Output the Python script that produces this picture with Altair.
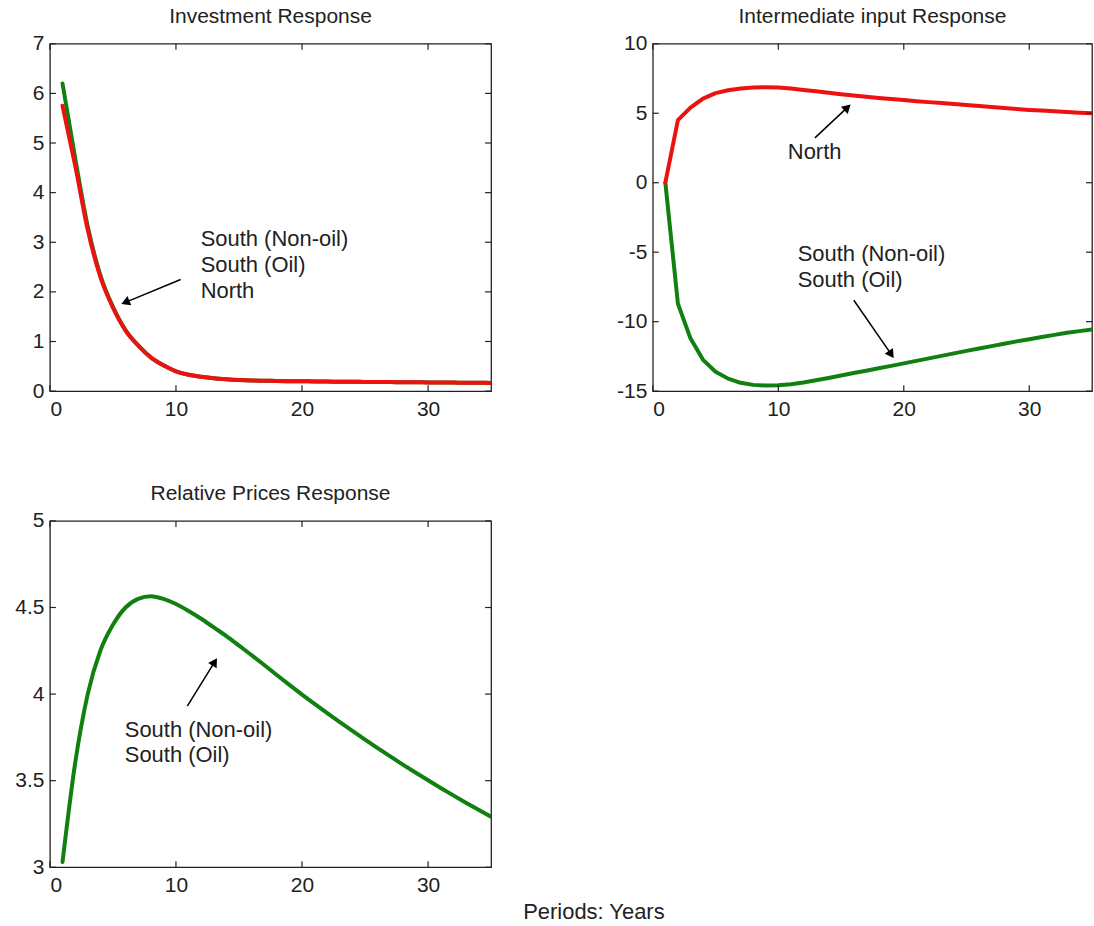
import math
import altair as alt
import pandas as pd

FONT = "Liberation Sans"
INK = "#222222"
RED = "#EE1111"
GREEN = "#118011"

periods = list(range(1, 36))

# Investment response
inv_north = [5.75, 4.55, 3.25, 2.30, 1.68, 1.22, 0.92, 0.68, 0.52, 0.40,
             0.33, 0.29, 0.26, 0.24, 0.225, 0.215, 0.21, 0.205, 0.20, 0.198,
             0.195, 0.192, 0.19, 0.188, 0.186, 0.184, 0.182, 0.18, 0.178, 0.176,
             0.174, 0.172, 0.17, 0.168, 0.166]
inv_south = [6.20, 4.70, 3.32, 2.34, 1.70, 1.23, 0.92, 0.68, 0.52, 0.40,
             0.33, 0.29, 0.26, 0.24, 0.225, 0.215, 0.21, 0.205, 0.20, 0.198,
             0.195, 0.192, 0.19, 0.188, 0.186, 0.184, 0.182, 0.18, 0.178, 0.176,
             0.174, 0.172, 0.17, 0.168, 0.166]

# Intermediate input response
int_north = [0.0, 4.5, 5.4, 6.05, 6.45, 6.65, 6.78, 6.85, 6.87, 6.85,
             6.78, 6.68, 6.58, 6.47, 6.37, 6.27, 6.18, 6.10, 6.02, 5.95,
             5.87, 5.80, 5.73, 5.66, 5.59, 5.52, 5.45, 5.38, 5.31, 5.24,
             5.19, 5.14, 5.09, 5.04, 5.00]
int_south = [0.0, -8.7, -11.2, -12.75, -13.6, -14.1, -14.4, -14.55, -14.6, -14.58,
             -14.5, -14.38, -14.22, -14.05, -13.87, -13.7, -13.53, -13.35, -13.18, -13.0,
             -12.82, -12.64, -12.46, -12.28, -12.1, -11.93, -11.76, -11.59, -11.42, -11.26,
             -11.1, -10.95, -10.8, -10.68, -10.56]

# Relative prices response
rp_south = [3.03, 3.60, 4.00, 4.25, 4.40, 4.50, 4.55, 4.565, 4.55, 4.52,
            4.48, 4.435, 4.385, 4.335, 4.28, 4.225, 4.168, 4.11, 4.053, 3.997,
            3.943, 3.89, 3.838, 3.787, 3.737, 3.688, 3.64, 3.593, 3.547, 3.502,
            3.458, 3.415, 3.373, 3.332, 3.292]

x_ticks = [0, 10, 20, 30]
x_domain = [0, 35]

# annotation labels: (x, y, text)
inv_labels = [(11.96, 3.06, "South (Non-oil)"), (11.96, 2.54, "South (Oil)"), (11.96, 2.01, "North")]
int_labels = [(10.76, 2.19, "North"), (11.55, -5.11, "South (Non-oil)"), (11.55, -6.98, "South (Oil)")]
rp_labels = [(5.94, 3.79, "South (Non-oil)"), (5.94, 3.65, "South (Oil)")]

# arrows: (x start, y start, x tip, y tip)
inv_arrows = [(10.37, 2.25, 5.62, 1.75)]
int_arrows = [(12.92, 3.23, 15.8, 5.67), (16.02, -8.46, 19.23, -12.65)]
rp_arrows = [(10.9, 3.93, 13.28, 4.21)]

# plain-number tick labels with an ASCII minus
PLAIN = "datum.value + ''"


def panel(title, series, y_domain, y_ticks, labels, arrows, W, H, interp="linear", extra=None):
    xs = alt.Scale(domain=x_domain, nice=False)
    ys = alt.Scale(domain=y_domain, nice=False, zero=False)
    xa = alt.Axis(values=x_ticks, title=None, labelExpr=PLAIN)
    ya = alt.Axis(values=y_ticks, title=None, labelExpr=PLAIN)

    def X(f):
        return alt.X(f, scale=xs, axis=xa)

    def Y(f):
        return alt.Y(f, scale=ys, axis=ya)

    layers = []
    for name, vals, color in series:
        df = pd.DataFrame({"x": periods, "y": vals})
        layers.append(
            alt.Chart(df).mark_line(color=color, strokeWidth=4, strokeJoin="round",
                                    strokeCap="round", interpolate=interp,
                                    clip=True).encode(x=X("x:Q"), y=Y("y:Q"))
        )

    # inward tick marks on all four sides
    xt = pd.DataFrame({"x": x_ticks})
    yt = pd.DataFrame({"y": y_ticks})
    tick = dict(color=INK, strokeWidth=1.2)
    layers.append(alt.Chart(xt).mark_rule(**tick).encode(x=X("x:Q"), y=alt.value(H), y2=alt.value(H - 6)))
    layers.append(alt.Chart(xt).mark_rule(**tick).encode(x=X("x:Q"), y=alt.value(0), y2=alt.value(6)))
    layers.append(alt.Chart(yt).mark_rule(**tick).encode(y=Y("y:Q"), x=alt.value(0), x2=alt.value(6)))
    layers.append(alt.Chart(yt).mark_rule(**tick).encode(y=Y("y:Q"), x=alt.value(W), x2=alt.value(W - 6)))

    # annotation text
    ldf = pd.DataFrame(labels, columns=["x", "y", "t"])
    layers.append(
        alt.Chart(ldf).mark_text(align="left", baseline="middle", font=FONT, fontSize=22,
                                 color=INK).encode(x=X("x:Q"), y=Y("y:Q"), text="t:N")
    )

    # arrows: shaft plus a rotated triangle head
    kx = W / (x_domain[1] - x_domain[0])
    ky = H / (y_domain[1] - y_domain[0])
    rows = []
    for x0, y0, x1, y1 in arrows:
        dx = (x1 - x0) * kx
        dy = -(y1 - y0) * ky
        ang = math.degrees(math.atan2(dx, -dy)) % 360
        L = math.hypot(dx, dy)
        back = 5.0
        hx = x1 - (dx / L) * back / kx
        hy = y1 + (dy / L) * back / ky
        rows.append({"x": x0, "y": y0, "x2": hx, "y2": hy, "hx": hx, "hy": hy, "ang": ang})
    adf = pd.DataFrame(rows)
    layers.append(
        alt.Chart(adf).mark_rule(color="black", strokeWidth=1.5).encode(
            x=X("x:Q"), y=Y("y:Q"), x2="x2:Q", y2="y2:Q")
    )
    layers.append(
        alt.Chart(adf).mark_point(shape="triangle-up", filled=True, color="black",
                                  size=100, opacity=1).encode(
            x=X("hx:Q"), y=Y("hy:Q"), angle=alt.Angle("ang:Q", scale=None))
    )
    if extra is not None:
        layers.append(extra)

    return alt.layer(*layers).properties(
        width=W, height=H,
        title=alt.TitleParams(title, font=FONT, fontSize=21, fontWeight="normal",
                              color=INK, offset=6),
    )


periods_label = alt.Chart(pd.DataFrame({"t": ["Periods: Years"]})).mark_text(
    align="center", baseline="middle", font=FONT, fontSize=22, color=INK
).encode(x=alt.value(545), y=alt.value(392), text="t:N")

p1 = panel("Investment Response",
           [("South", inv_south, GREEN), ("North", inv_north, RED)],
           [0, 7], [0, 1, 2, 3, 4, 5, 6, 7], inv_labels, inv_arrows, 442, 348,
           interp="monotone")
p2 = panel("Intermediate input Response",
           [("South", int_south, GREEN), ("North", int_north, RED)],
           [-15, 10], [-15, -10, -5, 0, 5, 10], int_labels, int_arrows, 440, 348)
p3 = panel("Relative Prices Response",
           [("South", rp_south, GREEN)],
           [3, 5], [3, 3.5, 4, 4.5, 5], rp_labels, rp_arrows, 442, 347,
           interp="monotone", extra=periods_label)

chart = alt.concat(
    p1, p2, p3, columns=2, spacing={"row": 130, "column": 162}, bounds="flush"
).properties(
    padding={"left": 14, "top": 4, "right": 0, "bottom": 0}
).configure_view(
    stroke=INK, strokeWidth=1.3
).configure_axis(
    labelFont=FONT, labelFontSize=21, labelColor=INK, ticks=False, domain=False,
    grid=False
).configure_axisX(labelPadding=7).configure_axisY(labelPadding=6)

chart.save("out.html", embed_options={"renderer": "svg", "actions": False})
